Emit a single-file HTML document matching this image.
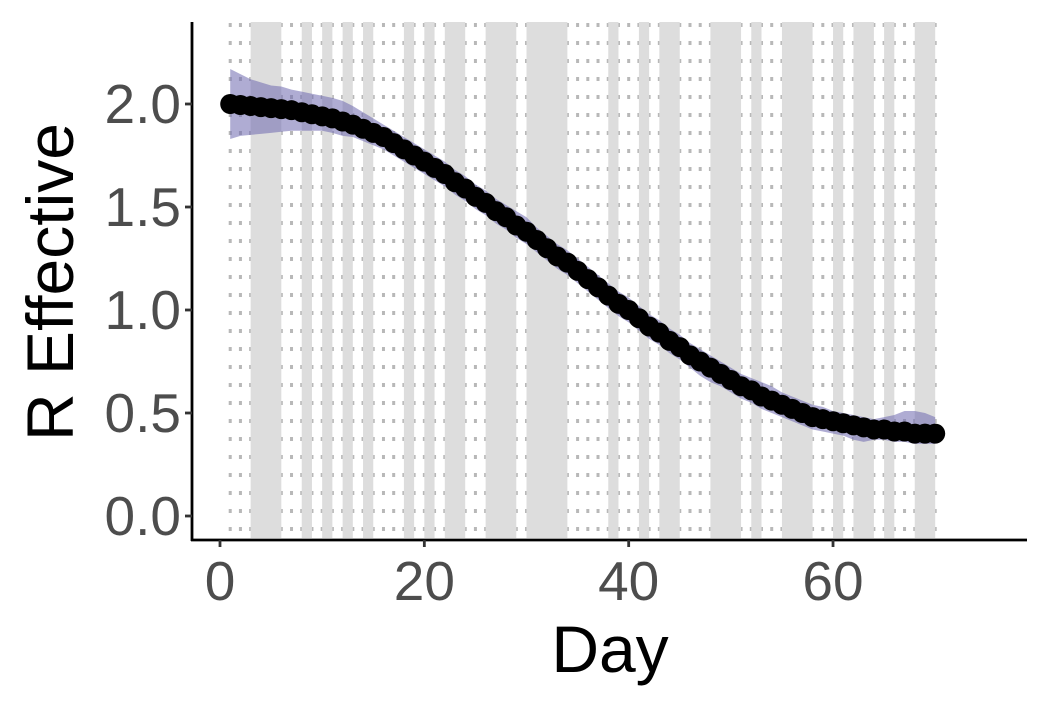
<!DOCTYPE html>
<html><head><meta charset="utf-8"><style>
html,body{margin:0;padding:0;background:#fff;}
svg text{font-family:"Liberation Sans",sans-serif;}
</style></head><body>
<svg id="chart" width="1051" height="708" xmlns="http://www.w3.org/2000/svg">
<g id="grid"></g>
<g id="bands"></g>
<g id="series"></g>
<g id="axes"></g>
</svg>
<script>
const days = Array.from({length:70},(_,i)=>i+1);
const rValues = [2.00,1.995,1.99,1.985,1.98,1.975,1.97,1.96,1.95,1.94,
1.93,1.915,1.90,1.88,1.86,1.84,1.81,1.78,1.75,1.72,
1.69,1.66,1.62,1.59,1.55,1.52,1.48,1.45,1.41,1.38,
1.34,1.30,1.26,1.23,1.19,1.15,1.11,1.07,1.03,1.00,
0.96,0.92,0.89,0.85,0.82,0.78,0.75,0.72,0.69,0.66,
0.63,0.61,0.58,0.56,0.54,0.52,0.50,0.48,0.47,0.46,
0.45,0.44,0.43,0.42,0.42,0.41,0.41,0.40,0.40,0.40];
const upperOffset = [0.17,0.15,0.13,0.12,0.11,0.11,0.10,0.10,0.10,0.10,
0.10,0.10,0.09,0.08,0.07,0.06,0.06,0.06,0.06,0.06,
0.06,0.06,0.06,0.06,0.06,0.06,0.06,0.06,0.07,0.07,
0.06,0.06,0.06,0.06,0.06,0.06,0.06,0.06,0.06,0.06,
0.06,0.06,0.06,0.06,0.06,0.06,0.06,0.06,0.06,0.06,
0.06,0.06,0.07,0.07,0.06,0.06,0.06,0.06,0.06,0.05,
0.05,0.05,0.05,0.05,0.06,0.08,0.10,0.11,0.10,0.08];
const lowerOffset = [0.17,0.15,0.14,0.13,0.12,0.11,0.10,0.09,0.08,0.07,
0.07,0.07,0.06,0.06,0.06,0.06,0.06,0.06,0.06,0.06,
0.06,0.06,0.06,0.06,0.06,0.06,0.06,0.06,0.06,0.06,
0.06,0.06,0.06,0.06,0.06,0.06,0.06,0.06,0.06,0.06,
0.06,0.06,0.06,0.06,0.06,0.06,0.07,0.07,0.06,0.06,
0.06,0.06,0.06,0.06,0.06,0.06,0.06,0.06,0.06,0.06,
0.06,0.07,0.07,0.05,0.05,0.05,0.05,0.05,0.05,0.05];
const bandStarts = [3,8,10,12,14,18,20,22,26,30,38,41,43,48,52,55,60,62,65,68];
const bandEnds   = [6,9,11,13,15,19,21,24,29,34,39,42,45,51,53,58,61,64,66,70];
const xTicks = [0,20,40,60];
const yTicks = [0,0.5,1.0,1.5,2.0];
const yTickLabels = ["0.0","0.5","1.0","1.5","2.0"];

const NS="http://www.w3.org/2000/svg";
const xs = d => 220 + d*10.217;
const ys = v => 516 - v*206;
function mk(tag, attrs, parent){const e=document.createElementNS(NS,tag);for(const k in attrs)e.setAttribute(k,attrs[k]);parent.appendChild(e);return e;}

const grid=document.getElementById('grid');
days.forEach(d=>{
  const l=mk('line',{x1:xs(d),x2:xs(d),y1:23,y2:538,stroke:'#b8b8b8','stroke-width':3,'stroke-dasharray':'4 14'},grid);
  
  
});
const bands=document.getElementById('bands');
bandStarts.forEach((s,i)=>{
  const r=mk('rect',{x:xs(s),y:22,width:xs(bandEnds[i])-xs(s),height:516,fill:'#dddddd'},bands);
  
  
});
const series=document.getElementById('series');
let up=days.map((d,i)=>xs(d)+','+ys(rValues[i]+upperOffset[i]));
let lo=days.map((d,i)=>xs(d)+','+ys(rValues[i]-lowerOffset[i])).reverse();
const rib=mk('polygon',{points:up.concat(lo).join(' '),fill:'rgba(110,104,175,0.55)'},series);


days.forEach((d,i)=>{
  const c=mk('circle',{cx:xs(d),cy:ys(rValues[i]),r:10,fill:'#000'},series);
  
  
});
const axes=document.getElementById('axes');
const ya=mk('line',{x1:192,x2:192,y1:22,y2:541,stroke:'#000','stroke-width':2.8},axes);


const xa=mk('line',{x1:191,x2:1027,y1:540,y2:540,stroke:'#000','stroke-width':2.8},axes);


xTicks.forEach(t=>{
  const tk=mk('line',{x1:xs(t),x2:xs(t),y1:540,y2:547,stroke:'#333','stroke-width':2.8},axes);
  
  
  const tx=mk('text',{x:xs(t),y:600,'text-anchor':'middle','font-size':55,fill:'#4d4d4d'},axes);
  tx.textContent=t;
  
  
});
yTicks.forEach((t,i)=>{
  const tk=mk('line',{x1:185,x2:192,y1:ys(t),y2:ys(t),stroke:'#333','stroke-width':2.8},axes);
  
  
  const tx=mk('text',{x:181,y:ys(t)+19,'text-anchor':'end','font-size':55,fill:'#4d4d4d'},axes);
  tx.textContent=yTickLabels[i];
  
  
});
const xt=mk('text',{x:610,y:672,'text-anchor':'middle','font-size':66,fill:'#000'},axes);
xt.textContent='Day';


const yt=mk('text',{x:0,y:0,'text-anchor':'middle','font-size':66,fill:'#000',transform:'translate(73,282) rotate(-90)'},axes);
yt.textContent='R Effective';


</script>
</body></html>
